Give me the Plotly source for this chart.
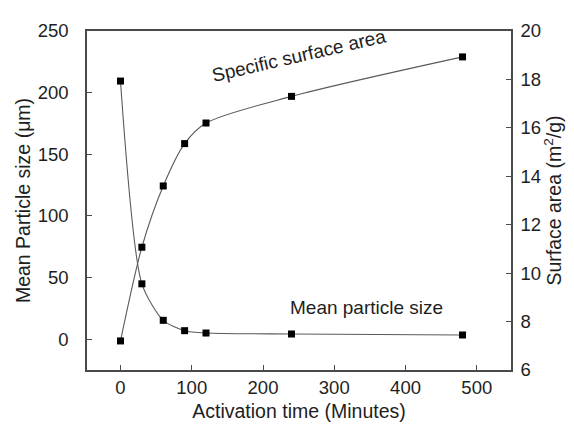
import plotly.graph_objects as go

time_min = [0, 30, 60, 90, 120, 240, 480]
particle_size = [209.4, 44.9, 15.3, 6.9, 5.0, 4.2, 3.4]
surface_area = [7.2, 11.07, 13.6, 15.35, 16.2, 17.3, 18.93]

x_ticks = [0, 100, 200, 300, 400, 500]
y1_ticks = [0, 50, 100, 150, 200, 250]
y2_ticks = [6, 8, 10, 12, 14, 16, 18, 20]

FONT = "Liberation Sans, Arial, sans-serif"
AX = "#4a4a4a"
TXT = "#1e1e1e"

fig = go.Figure()
fig.add_trace(go.Scatter(
    x=time_min, y=particle_size, mode="lines+markers",
    line=dict(color="#5a5a5a", width=1.1, shape="spline", smoothing=0.7),
    marker=dict(symbol="square", size=7, color="black"),
    yaxis="y", showlegend=False))
fig.add_trace(go.Scatter(
    x=time_min, y=surface_area, mode="lines+markers",
    line=dict(color="#5a5a5a", width=1.1, shape="spline", smoothing=0.8),
    marker=dict(symbol="square", size=7, color="black"),
    yaxis="y2", showlegend=False))

axis_common = dict(showgrid=False, zeroline=False, showline=True, linecolor=AX,
                   linewidth=1.5, ticks="inside", ticklen=5, tickcolor=AX,
                   tickwidth=1.2, tickfont=dict(family=FONT, size=18.5, color=TXT))

fig.update_layout(
    width=574, height=427,
    margin=dict(l=79, r=71, t=15, b=65),
    paper_bgcolor="white", plot_bgcolor="white",
    font=dict(family=FONT, size=18.5, color=TXT),
    xaxis=dict(range=[-47, 548], tickvals=x_ticks, mirror=True,
               ticklabelstandoff=0,
               title=dict(text="Activation time (Minutes)", font=dict(size=19.5), standoff=7),
               **axis_common),
    yaxis=dict(range=[-25, 250], tickvals=y1_ticks,
               ticklabelstandoff=13,
               title=dict(text="Mean Particle size (μm)", font=dict(size=19.5), standoff=2),
               **axis_common),
    yaxis2=dict(range=[6, 20], tickvals=y2_ticks, overlaying="y", side="right",
                ticklabelstandoff=4,
                title=dict(text="Surface area (m<sup>2</sup>/g)", font=dict(size=19.5), standoff=6),
                **axis_common),
    annotations=[
        dict(x=251, y=19.0, xref="x", yref="y2", text="Specific surface area",
             showarrow=False, textangle=-13, font=dict(size=19, color=TXT)),
        dict(x=345, y=26, xref="x", yref="y", text="Mean particle size",
             showarrow=False, font=dict(size=19, color=TXT)),
    ],
)

fig.write_html("out.html")
